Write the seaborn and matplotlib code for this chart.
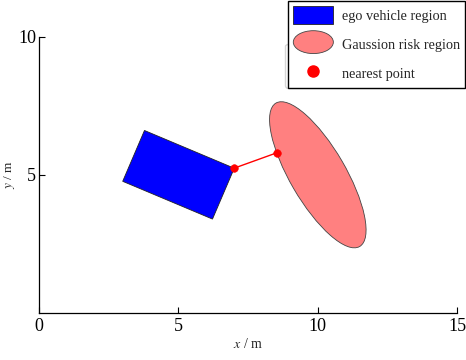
import matplotlib
matplotlib.use('Agg')
import matplotlib.pyplot as plt
import seaborn as sns
from matplotlib.patches import Rectangle, Ellipse
from matplotlib.legend_handler import HandlerPatch

# data
ego_center = [5.0, 5.0]
ego_size = [3.5, 2.0]
ego_angle = -23
risk_center = [10.0, 5.0]
risk_size = [6.0, 2.0]
risk_angle = -60
nearest_x = [7.0, 8.54]
nearest_y = [5.24, 5.80]
x_ticks = [0, 5, 10, 15]
y_ticks = [5, 10]

sns.set_style('ticks')
plt.rcParams['font.family'] = ['Liberation Serif', 'DejaVu Serif']
plt.rcParams['mathtext.fontset'] = 'stix'


class HandlerEllipse(HandlerPatch):
    def create_artists(self, legend, orig_handle, xdescent, ydescent,
                       width, height, fontsize, trans):
        center = (0.5 * width - 0.5 * xdescent, 0.5 * height - 0.5 * ydescent)
        p = Ellipse(xy=center, width=width + xdescent, height=height + ydescent)
        self.update_prop(p, orig_handle, legend)
        p.set_transform(trans)
        return [p]


fig = plt.figure(figsize=(4.66, 3.6), dpi=100)
ax = fig.add_axes([0.084, 0.131, 0.897, 0.767])

rect = Rectangle((ego_center[0] - ego_size[0] / 2, ego_center[1] - ego_size[1] / 2),
                 ego_size[0], ego_size[1], angle=ego_angle, rotation_point='center',
                 facecolor='blue', edgecolor='#222222', linewidth=0.6,
                 label='ego vehicle region')
ax.add_patch(rect)

ell = Ellipse(risk_center, risk_size[0], risk_size[1], angle=risk_angle,
              facecolor='#ff8080', edgecolor='#444444', linewidth=0.6,
              label='Gaussion risk region')
ax.add_patch(ell)

sns.lineplot(x=nearest_x, y=nearest_y, color='red', linewidth=1, ax=ax, sort=False)
sns.scatterplot(x=nearest_x, y=nearest_y, color='red', s=30, edgecolor='red',
                ax=ax, zorder=5, legend=False)

ax.set_xlim(0, 15)
ax.set_ylim(0, 10)
ax.set_xticks(x_ticks)
ax.set_yticks(y_ticks)
ax.tick_params(direction='in', labelsize=13, length=4, width=0.8, colors='black')
ax.tick_params(axis='y', pad=2)
for s in ['top', 'right']:
    ax.spines[s].set_visible(False)
for s in ['left', 'bottom']:
    ax.spines[s].set_color('black')
    ax.spines[s].set_linewidth(0.9)

ax.set_xlabel('$x$ / m', fontsize=10, labelpad=2)
ax.set_ylabel('$y$ / m', fontsize=9.5)
ax.yaxis.set_label_coords(-0.052, 0.5)

dot = plt.Line2D([], [], marker='o', color='red', linestyle='None',
                 markersize=8, label='nearest point')
leg = fig.legend(handles=[rect, ell, dot], loc='upper right',
                 bbox_to_anchor=(0.998, 0.997), borderaxespad=0,
                 fontsize=10.3, frameon=True, shadow=False,
                 fancybox=False, framealpha=1, edgecolor='black',
                 handlelength=2.8, handleheight=1.6, labelspacing=0.75,
                 borderpad=0.35, handletextpad=0.6,
                 handler_map={Ellipse: HandlerEllipse()})
leg.get_frame().set_linewidth(1.0)

fig.savefig('out.png', dpi=100)
